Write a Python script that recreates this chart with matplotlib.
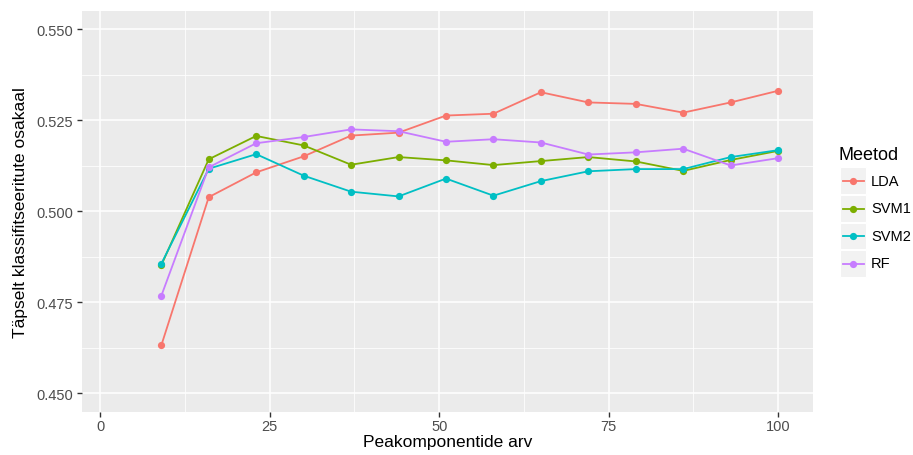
import matplotlib
matplotlib.use('Agg')
from matplotlib import pyplot as plt
from matplotlib.patches import Rectangle
from matplotlib.ticker import MultipleLocator

plt.rcParams['font.family'] = ['Liberation Sans', 'DejaVu Sans']

# number of principal components
komponendid = [9, 16, 23, 30, 37, 44, 51, 58, 65, 72, 79, 86, 93, 100]

lda = [0.4632, 0.5039, 0.5107, 0.5151, 0.5208, 0.5216, 0.5263, 0.5268,
       0.5327, 0.5299, 0.5295, 0.5271, 0.5299, 0.5331]
svm1 = [0.4852, 0.5143, 0.5207, 0.5181, 0.5128, 0.5149, 0.5140, 0.5127,
        0.5138, 0.5149, 0.5137, 0.5111, 0.5141, 0.5166]
svm2 = [0.4856, 0.5117, 0.5157, 0.5098, 0.5054, 0.5041, 0.5090, 0.5043,
        0.5083, 0.5110, 0.5116, 0.5116, 0.5149, 0.5168]
rf = [0.4768, 0.5121, 0.5187, 0.5204, 0.5225, 0.5220, 0.5191, 0.5198,
      0.5189, 0.5156, 0.5162, 0.5172, 0.5126, 0.5146]

meetodid = ['LDA', 'SVM1', 'SVM2', 'RF']
vaartused = [lda, svm1, svm2, rf]
varvid = ['#F8766D', '#7CAE00', '#00BFC4', '#C77CFF']

W, H = 913, 456
fig = plt.figure(figsize=(W / 100, H / 100), dpi=100)
ax = fig.add_axes([82 / W, 1 - 412.7 / H, (812.7 - 82) / W, (412.7 - 12) / H])

ax.set_facecolor('#EBEBEB')
for s in ax.spines.values():
    s.set_visible(False)

ax.set_xlim(-2.7, 105.1)
ax.set_ylim(0.445, 0.555)
ax.xaxis.set_major_locator(MultipleLocator(25))
ax.xaxis.set_minor_locator(MultipleLocator(12.5))
ax.yaxis.set_major_locator(MultipleLocator(0.025))
ax.yaxis.set_minor_locator(MultipleLocator(0.0125))
ax.yaxis.set_major_formatter(matplotlib.ticker.FormatStrFormatter('%.3f'))

ax.grid(which='major', color='white', linewidth=1.1)
ax.grid(which='minor', color='white', linewidth=0.55)
ax.set_axisbelow(True)
ax.tick_params(which='major', length=3.5, width=1.0, color='#333333',
               labelcolor='#4D4D4D', labelsize=10.5, pad=3)
ax.tick_params(axis='x', which='major', pad=1.5)
ax.tick_params(which='minor', length=0)

for nimi, v, c in zip(meetodid, vaartused, varvid):
    ax.plot(komponendid, v, color=c, linewidth=1.3, marker='o',
            markersize=5.2, markeredgewidth=0, label=nimi, zorder=3)

ax.set_xlabel('Peakomponentide arv', fontsize=12.5, color='black', labelpad=1)
ax.set_ylabel('Täpselt klassifitseeritute osakaal', fontsize=12.5,
              color='black', labelpad=6)

# legend drawn by hand, ggplot style
fig.text(838 / W, 1 - 155 / H, 'Meetod', fontsize=13, va='center', ha='left')
key_y = [181.5, 209.5, 237.0, 264.5]
for nimi, c, yy in zip(meetodid, varvid, key_y):
    fig.patches.append(Rectangle((840 / W, 1 - (yy + 13.2) / H), 26 / W, 26.4 / H,
                                 transform=fig.transFigure, facecolor='#F2F2F2',
                                 edgecolor='white', linewidth=0.8))
    fig.lines.append(plt.Line2D([842.5 / W, 863.5 / W], [1 - yy / H, 1 - yy / H],
                                transform=fig.transFigure, color=c, linewidth=1.3))
    fig.lines.append(plt.Line2D([853 / W], [1 - yy / H], transform=fig.transFigure,
                                color=c, marker='o', markersize=5.2, markeredgewidth=0))
    fig.text(871 / W, 1 - yy / H, nimi, fontsize=10.5, va='center', ha='left')

fig.savefig('out.png', dpi=100)
